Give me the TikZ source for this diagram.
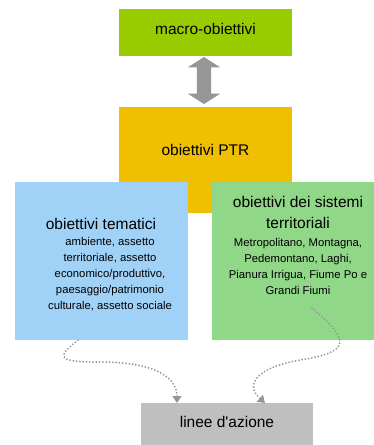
\documentclass[tikz,border=0pt]{standalone}
\usepackage{fontspec}
\setmainfont{Liberation Sans}
\usetikzlibrary{shapes.arrows,arrows.meta}
\definecolor{macrogreen}{RGB}{153,204,0}
\definecolor{ptryellow}{RGB}{240,192,0}
\definecolor{temblue}{RGB}{160,210,248}
\definecolor{sisgreen}{RGB}{144,216,136}
\definecolor{lineegray}{RGB}{191,191,191}
\definecolor{arrowgray}{RGB}{150,150,150}
\tikzset{
	box/.style={rectangle, inner sep=0pt, minimum width=173pt},
	titletext/.style={font=\fontsize{15.5}{21}\selectfont, align=center, inner sep=0pt},
	bodytext/.style={font=\fontsize{11.3}{16}\selectfont, align=center, inner sep=0pt},
	dotarrow/.style={draw=arrowgray, line width=2pt, line cap=round, dash pattern=on 0pt off 3.3pt,
		-{Triangle[width=9pt,length=7pt,fill=arrowgray]}}
}

\begin{document}
\begin{tikzpicture}[x=1pt,y=-1pt]
				%%%%% START %%%%%
				\clip (0,0) rectangle (374,445);
				
				\node[box, fill=macrogreen, minimum height=47pt, font=\fontsize{15.5}{19}\selectfont,
					text height=11pt, text depth=8pt] (macro) at (205.5,32.5) {macro-obiettivi};
				
				\node[double arrow, fill=arrowgray, rotate=90, minimum height=47pt, minimum width=14pt, inner sep=7pt,
					double arrow head extend=9pt, double arrow tip angle=115, double arrow head indent=0pt] (link) at (204,80.5) {};
				
				\node[box, fill=ptryellow, minimum height=106pt,
					label={[yshift=10pt, font=\fontsize{15.5}{19}\selectfont]center:obiettivi PTR}] (ptr) at (205.5,160) {};
				
				\node[box, fill=temblue, minimum height=158pt] (tem) at (101.5,261) {};
				\node[titletext] (temtitle) at (101,224) {obiettivi tematici};
				\node[bodytext] (temtext) at (110,274) {ambiente, assetto\\territoriale, assetto\\economico/produttivo,\\paesaggio/patrimonio\\culturale, assetto sociale};
				
				\node[box, fill=sisgreen, minimum width=172pt, minimum height=158pt] (sis) at (298,261) {};
				\node[titletext] (sistitle) at (298,212) {obiettivi dei sistemi\\territoriali};
				\node[bodytext] (sistext) at (298,266) {Metropolitano, Montagna,\\Pedemontano, Laghi,\\Pianura Irrigua, Fiume Po e\\Grandi Fiumi};
				
				\node[box, fill=lineegray, minimum width=172pt, minimum height=47pt, font=\fontsize{15.5}{19}\selectfont,
					text depth=10pt, text height=11pt, anchor=north] (linee) at (227,403) {linee d\textquotesingle azione};
				
				\coordinate (sisstart) at (312,308);
				\draw[dotarrow] ([xshift=-23.5pt]tem.south) .. controls (55,358) and (58,362) .. (100,362)
					.. controls (160,362) and (177,380) .. ([xshift=-50pt]linee.north);
				\draw[dotarrow] (sisstart) .. controls (350,340) and (352,352) .. (300,360)
					.. controls (255,368) and (245,385) .. ([xshift=38pt]linee.north);
				%%%%% END %%%%%
\end{tikzpicture}
\end{document}
